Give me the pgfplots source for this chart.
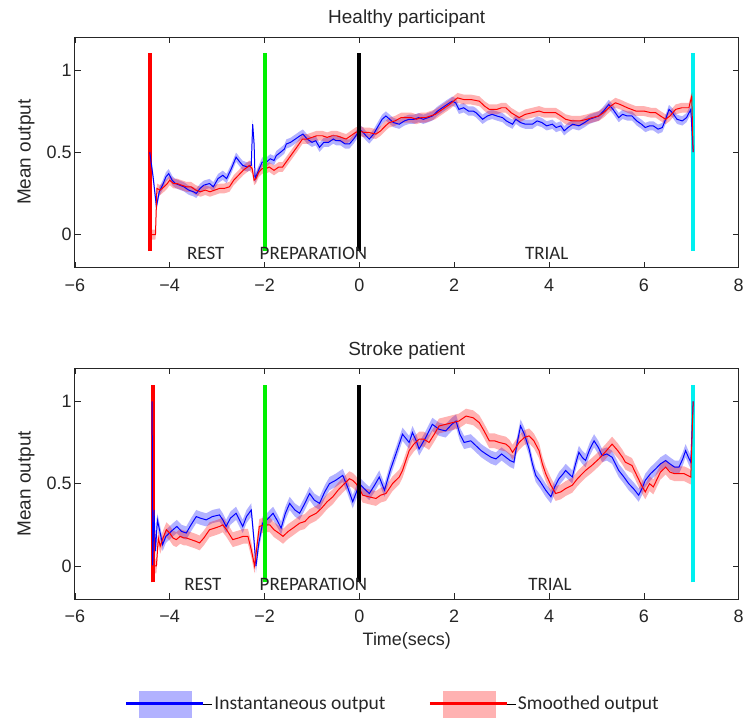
\documentclass[border=0pt]{standalone}
\usepackage{pgfplots}
\pgfplotsset{compat=1.18}
\usepgfplotslibrary{fillbetween}
\usepackage{pgfplotstable}
\usepackage{fontspec}
\setmainfont{Liberation Sans}
\newfontfamily\myriad{Carlito}

\definecolor{bband}{RGB}{178,178,255}
\definecolor{rband}{RGB}{255,178,178}
\definecolor{lgreen}{RGB}{0,240,0}
\definecolor{lcyan}{RGB}{0,240,240}

% Healthy participant, instantaneous output
\pgfplotstableread{
x y
-4.42 0.50
-4.35 0.35
-4.28 0.17
-4.22 0.26
-4.15 0.30
-4.08 0.35
-4.02 0.37
-3.95 0.33
-3.88 0.31
-3.79 0.30
-3.70 0.29
-3.60 0.27
-3.50 0.26
-3.44 0.25
-3.36 0.28
-3.28 0.30
-3.16 0.31
-3.08 0.29
-2.98 0.34
-2.88 0.36
-2.80 0.34
-2.70 0.40
-2.60 0.47
-2.52 0.44
-2.46 0.42
-2.36 0.41
-2.28 0.42
-2.25 0.67
-2.22 0.55
-2.20 0.34
-2.14 0.38
-2.05 0.44
-1.96 0.44
-1.88 0.46
-1.80 0.45
-1.75 0.48
-1.66 0.50
-1.58 0.52
-1.54 0.55
-1.45 0.56
-1.35 0.58
-1.25 0.60
-1.19 0.61
-1.10 0.58
-1.00 0.56
-0.92 0.57
-0.84 0.53
-0.75 0.56
-0.65 0.56
-0.55 0.58
-0.49 0.57
-0.40 0.57
-0.30 0.55
-0.21 0.55
-0.12 0.58
-0.05 0.61
0.00 0.64
0.08 0.62
0.14 0.60
0.21 0.58
0.30 0.61
0.40 0.66
0.48 0.70
0.56 0.72
0.64 0.70
0.72 0.68
0.84 0.67
0.95 0.69
1.05 0.70
1.15 0.70
1.25 0.71
1.35 0.70
1.45 0.71
1.54 0.72
1.65 0.75
1.75 0.77
1.85 0.79
1.96 0.81
2.03 0.80
2.10 0.76
2.20 0.77
2.30 0.75
2.40 0.75
2.46 0.74
2.53 0.72
2.60 0.70
2.70 0.72
2.80 0.73
2.90 0.72
3.02 0.71
3.10 0.69
3.23 0.67
3.30 0.70
3.40 0.68
3.50 0.67
3.65 0.67
3.75 0.69
3.85 0.68
3.95 0.66
4.07 0.67
4.15 0.65
4.25 0.66
4.32 0.63
4.40 0.65
4.50 0.67
4.63 0.66
4.75 0.68
4.85 0.70
4.95 0.71
5.05 0.72
5.15 0.75
5.26 0.79
5.35 0.76
5.47 0.71
5.55 0.73
5.65 0.72
5.75 0.72
5.85 0.69
5.95 0.67
6.03 0.65
6.12 0.66
6.20 0.66
6.30 0.64
6.39 0.65
6.46 0.70
6.53 0.76
6.60 0.74
6.70 0.70
6.81 0.69
6.90 0.71
6.99 0.76
7.04 0.50
}\healthyinst

% Healthy participant, smoothed output
\pgfplotstableread{
x y
-4.40 0.00
-4.30 0.00
-4.27 0.28
-4.20 0.27
-4.12 0.29
-4.05 0.31
-4.00 0.33
-3.92 0.31
-3.85 0.31
-3.75 0.30
-3.65 0.29
-3.55 0.29
-3.45 0.27
-3.35 0.26
-3.25 0.27
-3.15 0.26
-3.05 0.27
-2.95 0.28
-2.85 0.28
-2.74 0.29
-2.65 0.33
-2.55 0.36
-2.45 0.39
-2.32 0.42
-2.26 0.40
-2.22 0.33
-2.18 0.34
-2.12 0.38
-2.05 0.40
-1.97 0.40
-1.90 0.41
-1.80 0.39
-1.70 0.41
-1.62 0.41
-1.52 0.45
-1.42 0.49
-1.32 0.53
-1.20 0.58
-1.10 0.58
-1.00 0.59
-0.90 0.60
-0.78 0.60
-0.68 0.59
-0.58 0.60
-0.48 0.60
-0.38 0.59
-0.28 0.58
-0.18 0.60
-0.08 0.62
0.00 0.63
0.10 0.62
0.20 0.62
0.35 0.61
0.45 0.63
0.55 0.66
0.63 0.68
0.75 0.69
0.88 0.71
0.98 0.71
1.10 0.71
1.20 0.70
1.30 0.71
1.40 0.71
1.50 0.72
1.60 0.73
1.75 0.76
1.90 0.79
2.07 0.83
2.20 0.82
2.35 0.82
2.53 0.81
2.64 0.78
2.74 0.76
2.90 0.76
3.00 0.77
3.09 0.77
3.20 0.74
3.37 0.71
3.50 0.73
3.65 0.74
3.79 0.75
3.90 0.74
4.00 0.74
4.14 0.74
4.25 0.72
4.35 0.70
4.49 0.69
4.65 0.69
4.80 0.70
4.91 0.71
5.05 0.72
5.15 0.74
5.30 0.78
5.40 0.80
5.50 0.79
5.65 0.77
5.83 0.75
6.00 0.75
6.15 0.74
6.25 0.74
6.35 0.72
6.46 0.70
6.55 0.72
6.67 0.76
6.80 0.77
6.95 0.77
7.01 0.84
7.04 0.50
}\healthysmooth

% Stroke patient, instantaneous output
\pgfplotstableread{
x y
-4.37 1.00
-4.36 0.00
-4.33 0.34
-4.30 0.09
-4.26 0.28
-4.20 0.20
-4.15 0.13
-4.08 0.18
-3.93 0.22
-3.85 0.24
-3.75 0.21
-3.65 0.20
-3.55 0.25
-3.44 0.30
-3.35 0.29
-3.23 0.28
-3.10 0.30
-2.95 0.31
-2.88 0.28
-2.81 0.24
-2.72 0.29
-2.60 0.32
-2.53 0.28
-2.46 0.24
-2.38 0.30
-2.28 0.34
-2.22 0.15
-2.18 0.00
-2.12 0.14
-2.04 0.26
-1.95 0.28
-1.82 0.32
-1.72 0.27
-1.65 0.23
-1.56 0.32
-1.47 0.38
-1.36 0.34
-1.26 0.32
-1.15 0.38
-1.05 0.44
-0.95 0.40
-0.84 0.38
-0.73 0.45
-0.63 0.50
-0.50 0.52
-0.35 0.55
-0.25 0.48
-0.14 0.39
-0.06 0.45
0.00 0.50
0.10 0.47
0.21 0.44
0.32 0.49
0.42 0.54
0.53 0.46
0.65 0.58
0.77 0.68
0.91 0.80
1.05 0.75
1.12 0.81
1.20 0.76
1.26 0.71
1.40 0.78
1.54 0.86
1.68 0.83
1.82 0.82
1.95 0.86
2.04 0.88
2.12 0.80
2.21 0.75
2.35 0.76
2.46 0.73
2.57 0.70
2.67 0.68
2.78 0.66
2.88 0.65
3.00 0.68
3.09 0.66
3.18 0.64
3.26 0.63
3.33 0.75
3.40 0.85
3.48 0.80
3.58 0.71
3.65 0.62
3.72 0.55
3.82 0.51
3.93 0.46
4.04 0.42
4.12 0.48
4.21 0.53
4.30 0.56
4.35 0.58
4.42 0.56
4.49 0.54
4.56 0.62
4.63 0.69
4.70 0.66
4.77 0.64
4.86 0.71
4.95 0.76
5.04 0.72
5.12 0.67
5.22 0.68
5.33 0.66
5.40 0.62
5.47 0.58
5.58 0.54
5.68 0.50
5.78 0.47
5.89 0.43
5.96 0.47
6.03 0.52
6.14 0.56
6.25 0.59
6.35 0.62
6.46 0.64
6.55 0.62
6.65 0.60
6.74 0.60
6.82 0.65
6.88 0.70
6.94 0.66
6.99 0.63
7.04 1.00
}\strokeinst

% Stroke patient, smoothed output
\pgfplotstableread{
x y
-4.38 0.00
-4.28 0.00
-4.24 0.17
-4.20 0.12
-4.14 0.17
-4.07 0.22
-4.00 0.20
-3.93 0.17
-3.86 0.16
-3.78 0.18
-3.70 0.17
-3.65 0.17
-3.55 0.16
-3.45 0.15
-3.37 0.14
-3.28 0.17
-3.16 0.22
-3.05 0.23
-2.95 0.24
-2.88 0.25
-2.80 0.22
-2.67 0.16
-2.55 0.17
-2.45 0.18
-2.35 0.18
-2.28 0.10
-2.21 0.00
-2.16 0.12
-2.11 0.24
-2.00 0.25
-1.89 0.25
-1.80 0.22
-1.70 0.20
-1.61 0.18
-1.50 0.21
-1.40 0.23
-1.26 0.26
-1.15 0.27
-1.05 0.30
-0.91 0.32
-0.80 0.35
-0.68 0.39
-0.56 0.42
-0.45 0.46
-0.35 0.49
-0.21 0.53
-0.14 0.52
-0.07 0.50
0.00 0.47
0.07 0.43
0.20 0.42
0.35 0.41
0.45 0.43
0.56 0.44
0.70 0.50
0.84 0.54
0.91 0.58
1.05 0.70
1.15 0.74
1.26 0.77
1.36 0.77
1.47 0.75
1.58 0.80
1.68 0.85
1.82 0.86
1.96 0.87
2.10 0.88
2.25 0.91
2.40 0.90
2.53 0.87
2.63 0.82
2.74 0.76
2.85 0.76
2.95 0.75
3.09 0.74
3.17 0.72
3.23 0.69
3.30 0.72
3.37 0.75
3.48 0.78
3.58 0.79
3.68 0.76
3.79 0.70
3.86 0.62
3.93 0.56
4.04 0.49
4.14 0.44
4.25 0.45
4.35 0.47
4.49 0.49
4.60 0.53
4.70 0.56
4.77 0.58
4.90 0.61
5.05 0.65
5.18 0.69
5.33 0.74
5.45 0.70
5.55 0.66
5.61 0.63
5.68 0.62
5.75 0.61
5.85 0.55
5.95 0.49
6.03 0.45
6.12 0.50
6.20 0.48
6.25 0.51
6.35 0.57
6.46 0.60
6.55 0.57
6.65 0.56
6.74 0.56
6.85 0.56
6.99 0.54
7.04 1.00
}\strokesmooth

\pgfplotsset{
  myax/.style={
    scale only axis, width=665pt, height=231pt,
    xmin=-6, xmax=8, ymin=-0.2, ymax=1.2,
    xtick={-6,-4,-2,0,2,4,6,8},
    xticklabels={−6,−4,−2,0,2,4,6,8},
    ytick={0,0.5,1}, yticklabels={0,0.5,1},
    tick align=inside, tick pos=both, major tick length=6pt,
    tick style={black!85, line width=0.6pt},
    axis line style={black!85, line width=0.8pt},
    ticklabel style={font=\fontsize{18}{20}\selectfont, text=black!85},
    xticklabel style={anchor=base, yshift=-24pt},
    yticklabel style={anchor=east, inner sep=0pt, xshift=-3pt},
    clip mode=individual,
  },
  vl/.style={line width=4pt, forget plot},
  bnd/.style={draw=none, forget plot},
}
\tikzset{
  txt/.style={font=\myriad\fontsize{19}{22}\selectfont, text=black!85},
  lab/.style={font=\fontsize{19}{22}\selectfont, text=black!85},
}

\begin{document}
\begin{tikzpicture}

% ---------------- Healthy participant ----------------
\begin{axis}[myax, at={(0pt,0pt)}]
\addplot[vl, red] coordinates {(-4.42,-0.1) (-4.42,1.1)};
\addplot[vl, lcyan] coordinates {(7.04,-0.1) (7.04,1.1)};
\addplot[bnd, name path=hiU] table[y expr=\thisrow{y}+0.028] {\healthyinst};
\addplot[bnd, name path=hiL] table[y expr=\thisrow{y}-0.028] {\healthyinst};
\addplot[fill=blue, fill opacity=0.3, draw=none, forget plot] fill between[of=hiU and hiL];
\addplot[blue, line width=1pt, forget plot] table {\healthyinst};
\addplot[bnd, name path=hsU] table[y expr=\thisrow{y}+0.03] {\healthysmooth};
\addplot[bnd, name path=hsL] table[y expr=\thisrow{y}-0.03] {\healthysmooth};
\addplot[fill=red, fill opacity=0.3, draw=none, forget plot] fill between[of=hsU and hsL];
\addplot[red, line width=1pt, forget plot] table {\healthysmooth};
\addplot[vl, lgreen] coordinates {(-2,-0.1) (-2,1.1)};
\addplot[vl, black] coordinates {(0,-0.1) (0,1.1)};
\node[txt] at (axis cs:-3.24,-0.114) {REST};
\node[txt] at (axis cs:-0.97,-0.114) {PREPARATION};
\node[txt] at (axis cs:3.95,-0.114) {TRIAL};
\node[lab, anchor=base] at (axis description cs:0.5,1) [yshift=13pt] {Healthy participant};
\node[lab, rotate=90, anchor=center] at (axis description cs:0,0.5) [yshift=49pt] {Mean output};
\end{axis}

% ---------------- Stroke patient ----------------
\begin{axis}[myax, at={(0pt,-332pt)},
  legend style={at={(0.479,-0.455)}, anchor=center, draw=none, fill=none,
    font=\myriad\fontsize{19.6}{22}\selectfont, text=black!85,
    /tikz/every even column/.append style={column sep=41pt}},
  legend columns=2, legend cell align=left]
\addplot[vl, red] coordinates {(-4.36,-0.1) (-4.36,1.1)};
\addplot[vl, lcyan] coordinates {(7.04,-0.1) (7.04,1.1)};
\addplot[bnd, name path=siU] table[y expr=\thisrow{y}+0.04] {\strokeinst};
\addplot[bnd, name path=siL] table[y expr=\thisrow{y}-0.04] {\strokeinst};
\addplot[fill=blue, fill opacity=0.3, draw=none, forget plot] fill between[of=siU and siL];
\addplot[blue, line width=1pt, forget plot] table {\strokeinst};
\addplot[bnd, name path=ssU] table[y expr=\thisrow{y}+0.045] {\strokesmooth};
\addplot[bnd, name path=ssL] table[y expr=\thisrow{y}-0.045] {\strokesmooth};
\addplot[fill=red, fill opacity=0.3, draw=none, forget plot] fill between[of=ssU and ssL];
\addplot[red, line width=1pt, forget plot] table {\strokesmooth};
\addplot[vl, lgreen] coordinates {(-2,-0.1) (-2,1.1)};
\addplot[vl, black] coordinates {(0,-0.1) (0,1.1)};
\addlegendimage{legend image code/.code={
  \path (0pt,0pt) -- (86pt,0pt);
  \fill[bband] (13pt,-13pt) rectangle (65pt,13pt);
  \draw[blue, line width=3pt] (0pt,0pt) -- (77pt,0pt);}}
\addlegendentry{Instantaneous output}
\addlegendimage{legend image code/.code={
  \path (0pt,0pt) -- (86pt,0pt);
  \fill[rband] (13pt,-13pt) rectangle (65pt,13pt);
  \draw[red, line width=3pt] (0pt,0pt) -- (77pt,0pt);}}
\addlegendentry{Smoothed output}
\node[txt] at (axis cs:-3.3,-0.114) {REST};
\node[txt] at (axis cs:-0.97,-0.114) {PREPARATION};
\node[txt] at (axis cs:4.02,-0.114) {TRIAL};
\node[lab, anchor=base] at (axis description cs:0.5,1) [yshift=13pt] {Stroke patient};
\node[lab, rotate=90, anchor=center] at (axis description cs:0,0.5) [yshift=49pt] {Mean output};
\node[font=\fontsize{18}{20}\selectfont, text=black!85, anchor=base] at (axis description cs:0.5,0) [yshift=-47pt] {Time(secs)};
\end{axis}
\path (-75pt,-450pt) rectangle (672pt,268pt);
\end{tikzpicture}
\end{document}
